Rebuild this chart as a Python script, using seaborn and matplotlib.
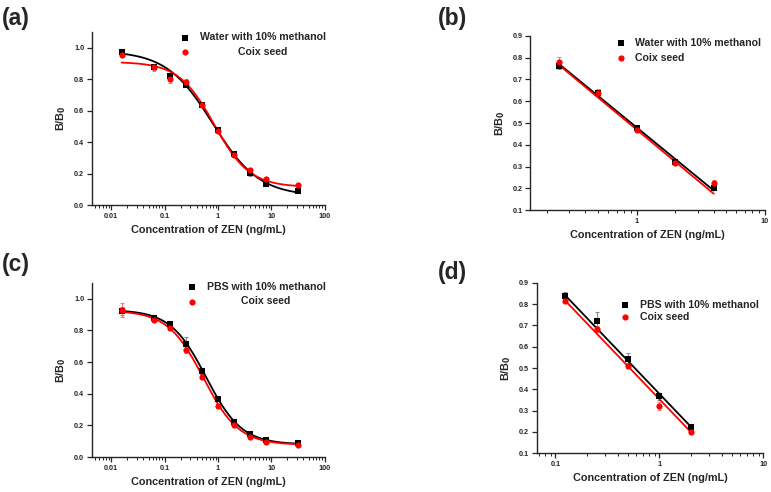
import numpy as np
import seaborn as sns
import matplotlib.pyplot as plt
from matplotlib.ticker import FuncFormatter, LogLocator, MultipleLocator

# ---- data ----
conc_full = [0.015625, 0.0625, 0.125, 0.25, 0.5, 1, 2, 4, 8, 32]

# (a) water with 10% methanol vs coix seed
a_water = [0.970, 0.878, 0.822, 0.765, 0.635, 0.480, 0.325, 0.203, 0.132, 0.092]
a_water_err = [0.010, 0.020, 0.020, 0.015, 0.012, 0.010, 0.008, 0.020, 0.008, 0.010]
a_coix = [0.955, 0.875, 0.800, 0.780, 0.637, 0.470, 0.316, 0.222, 0.165, 0.125]
a_coix_err = [0.015, 0.020, 0.025, 0.020, 0.015, 0.010, 0.008, 0.015, 0.010, 0.008]
# 4PL fit parameters (top, slope, IC50, bottom)
a_water_fit = (0.98, 1.0, 0.80, 0.058)
a_coix_fit = (0.91, 1.3, 0.85, 0.115)

# (b) linear range
conc_b = [0.25, 0.5, 1, 2, 4]
b_water = [0.764, 0.636, 0.479, 0.321, 0.203]
b_water_err = [0.015, 0.012, 0.012, 0.008, 0.012]
b_coix = [0.782, 0.639, 0.468, 0.315, 0.226]
b_coix_err = [0.020, 0.015, 0.008, 0.008, 0.010]
# linear fit parameters (intercept, slope vs log10 conc)
b_water_fit = (0.480, -0.482)
b_coix_fit = (0.470, -0.490)

# (c) PBS with 10% methanol vs coix seed
c_pbs = [0.924, 0.880, 0.838, 0.717, 0.542, 0.365, 0.224, 0.146, 0.108, 0.089]
c_pbs_err = [0.025, 0.020, 0.015, 0.040, 0.020, 0.012, 0.012, 0.008, 0.006, 0.006]
c_coix = [0.928, 0.867, 0.816, 0.679, 0.508, 0.323, 0.200, 0.127, 0.097, 0.078]
c_coix_err = [0.045, 0.015, 0.012, 0.020, 0.012, 0.012, 0.008, 0.008, 0.006, 0.006]
c_pbs_fit = (0.93, 1.3, 0.60, 0.080)
c_coix_fit = (0.925, 1.3, 0.53, 0.077)

# (d) linear range
conc_d = [0.125, 0.25, 0.5, 1, 2]
d_pbs = [0.837, 0.720, 0.544, 0.367, 0.222]
d_pbs_err = [0.020, 0.042, 0.025, 0.015, 0.015]
d_coix = [0.814, 0.684, 0.511, 0.322, 0.199]
d_coix_err = [0.010, 0.015, 0.012, 0.018, 0.008]
d_pbs_fit = (0.379, -0.511)
d_coix_fit = (0.354, -0.511)

XLABEL = "Concentration of ZEN (ng/mL)"
YLABEL = r"B/B$_\mathbf{0}$"


def four_pl(x, top, slope, ic50, bottom):
    return bottom + (top - bottom) / (1 + (x / ic50) ** slope)


def lin_log(x, intercept, slope):
    return intercept + slope * np.log10(x)


sns.set_style("ticks")
plt.rcParams["font.family"] = ["Liberation Sans", "DejaVu Sans"]
plt.rcParams["font.weight"] = "bold"
plt.rcParams["mathtext.default"] = "bf"
plt.rcParams["axes.linewidth"] = 1.0

fig = plt.figure(figsize=(7.71, 4.92), dpi=100)
ax_a = fig.add_axes([0.119, 0.583, 0.302, 0.352])
ax_b = fig.add_axes([0.688, 0.573, 0.304, 0.354])
ax_c = fig.add_axes([0.119, 0.071, 0.302, 0.354])
ax_d = fig.add_axes([0.696, 0.079, 0.294, 0.346])


def draw_panel(ax, x, y1, e1, y2, e2, model, p1, p2, labels):
    xs = np.logspace(np.log10(min(x)), np.log10(max(x)), 200)
    sns.lineplot(x=xs, y=model(xs, *p1), color="black", lw=1.3, ax=ax, zorder=2)
    sns.lineplot(x=xs, y=model(xs, *p2), color="red", lw=1.3, ax=ax, zorder=2)
    ax.errorbar(x, y1, yerr=e1, fmt="none", ecolor="#8a8a8a", elinewidth=0.8,
                capsize=1.5, capthick=0.8, zorder=1)
    ax.errorbar(x, y2, yerr=e2, fmt="none", ecolor="#f08080", elinewidth=0.8,
                capsize=1.5, capthick=0.8, zorder=1)
    sns.scatterplot(x=x, y=y1, marker="s", color="black", s=18, linewidth=0,
                    label=labels[0], ax=ax, zorder=3)
    sns.scatterplot(x=x, y=y2, marker="o", color="red", s=20, linewidth=0,
                    label=labels[1], ax=ax, zorder=3)
    ax.set_xscale("log")
    ax.xaxis.set_major_locator(LogLocator(base=10))
    ax.xaxis.set_minor_locator(LogLocator(base=10, subs=np.arange(2, 10)))
    ax.xaxis.set_major_formatter(FuncFormatter(lambda v, p: "%g" % v))
    ax.yaxis.set_major_formatter(FuncFormatter(lambda v, p: "%.1f" % v))
    ax.tick_params(which="major", length=3.5, width=0.9, labelsize=5.2, pad=2)
    ax.tick_params(which="minor", length=2, width=0.7)
    for lab in ax.get_xticklabels() + ax.get_yticklabels():
        lab.set_fontweight("bold")
    ax.set_xlabel(XLABEL, fontsize=7.8, fontweight="bold", labelpad=4)
    ax.set_ylabel(YLABEL, fontsize=7.8, fontweight="bold", labelpad=4)
    sns.despine(ax=ax)


draw_panel(ax_a, conc_full, a_water, a_water_err, a_coix, a_coix_err, four_pl,
           a_water_fit, a_coix_fit, ["Water with 10% methanol", "Coix seed"])
ax_a.set_xlim(0.0043, 100)
ax_a.set_ylim(0, 1.1)
ax_a.yaxis.set_major_locator(MultipleLocator(0.2))

draw_panel(ax_b, conc_b, b_water, b_water_err, b_coix, b_coix_err, lin_log,
           b_water_fit, b_coix_fit, ["Water with 10% methanol", "Coix seed"])
ax_b.set_xlim(0.149, 10)
ax_b.set_ylim(0.1, 0.9)
ax_b.yaxis.set_major_locator(MultipleLocator(0.1))

draw_panel(ax_c, conc_full, c_pbs, c_pbs_err, c_coix, c_coix_err, four_pl,
           c_pbs_fit, c_coix_fit, ["PBS with 10% methanol", "Coix seed"])
ax_c.set_xlim(0.0043, 100)
ax_c.set_ylim(0, 1.1)
ax_c.yaxis.set_major_locator(MultipleLocator(0.2))

draw_panel(ax_d, conc_d, d_pbs, d_pbs_err, d_coix, d_coix_err, lin_log,
           d_pbs_fit, d_coix_fit, ["PBS with 10% methanol", "Coix seed"])
ax_d.set_xlim(0.066, 10)
ax_d.set_ylim(0.1, 0.9)
ax_d.yaxis.set_major_locator(MultipleLocator(0.1))

legends = {}
for ax, anchor, spacing in [(ax_a, (0.35, 1.04), 0.45), (ax_b, (0.335, 1.03), 0.45),
                            (ax_c, (0.38, 1.05), 0.45), (ax_d, (0.34, 0.945), 0.2)]:
    leg = ax.legend(loc="upper left", bbox_to_anchor=anchor, frameon=False,
                    prop={"size": 7.6, "weight": "bold"}, handlelength=0.8,
                    handletextpad=1.0, borderpad=0.2, labelspacing=spacing,
                    markerscale=1.0)
    legends[ax] = leg

# centre the second legend entry under the first, as in panels (a) and (c)
fig.canvas.draw()
renderer = fig.canvas.get_renderer()
for ax in (ax_a, ax_c):
    t0, t1 = legends[ax].get_texts()
    w0 = t0.get_window_extent(renderer).width
    w1 = t1.get_window_extent(renderer).width
    t1.set_x((w0 - w1) / 2)

for label, x, y in [("(a)", 0.003, 0.985), ("(b)", 0.568, 0.985),
                    ("(c)", 0.003, 0.485), ("(d)", 0.568, 0.47)]:
    fig.text(x, y, label, fontsize=16.5, fontweight="bold", va="top", ha="left")

fig.savefig("out.png", dpi=100)
